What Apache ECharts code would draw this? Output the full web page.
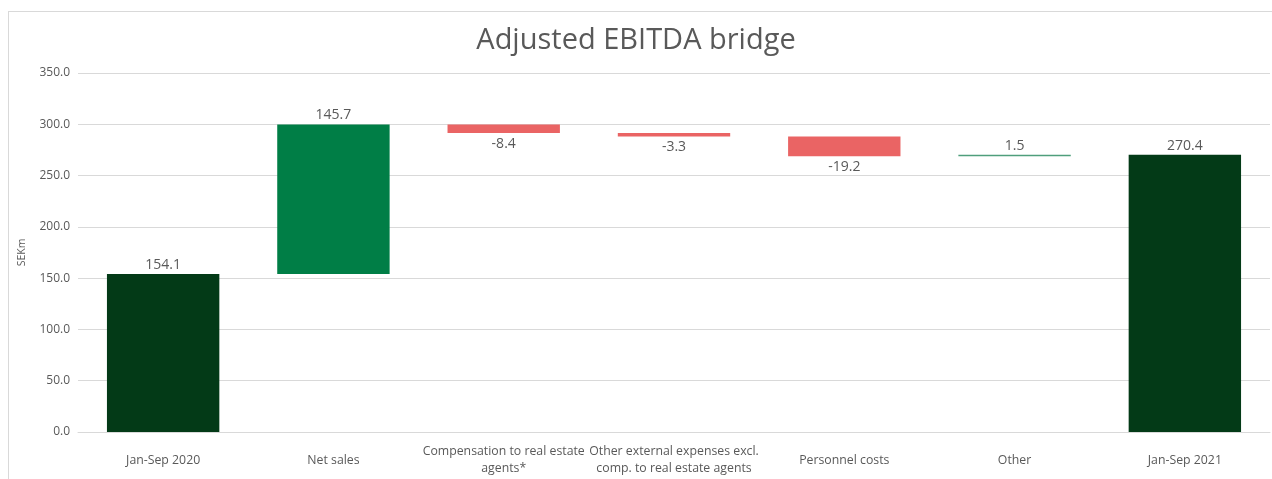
<!DOCTYPE html>
<html>
<head>
<meta charset="utf-8">
<script src="https://cdn.jsdelivr.net/npm/echarts@6/dist/echarts.min.js"></script>
<style>
html,body{margin:0;padding:0;background:#fff;}
#frame{position:absolute;left:8px;top:11px;width:1300px;height:500px;border:1px solid #d9d9d9;box-sizing:border-box;}
#chart{position:absolute;left:0;top:0;width:1272px;height:479px;}
</style>
</head>
<body>
<div id="frame"></div>
<div id="chart"></div>
<script>
const categories = ["Jan-Sep 2020", "Net sales", "Compensation to real estate\nagents*", "Other external expenses excl.\ncomp. to real estate agents", "Personnel costs", "Other", "Jan-Sep 2021"];
const values = [154.1, 145.7, -8.4, -3.3, -19.2, 1.5, 270.4];
const kinds = ["total", "delta", "delta", "delta", "delta", "delta", "total"];
const yTicks = {min: 0, max: 350, interval: 50};

const colors = {total: "#033a17", up: "#007e46", down: "#ea6464", small: "#4f9f7c"};

let running = 0;
const baseData = [], barData = [];
values.forEach((v, i) => {
  let base, h, color, pos, dist;
  if (kinds[i] === "total") {
    base = 0; h = v; running = v; color = colors.total; pos = "top"; dist = 2;
  } else if (v >= 0) {
    base = running; h = v; running += v; color = Math.abs(v) < 3 ? colors.small : colors.up; pos = "top"; dist = 2;
  } else {
    base = running + v; h = -v; running += v; color = colors.down; pos = "bottom"; dist = 4;
  }
  baseData.push(base);
  barData.push({value: h, itemStyle: {color: color}, label: {position: pos, distance: dist, formatter: v.toFixed(1)}});
});

const chart = echarts.init(document.getElementById('chart'));
chart.setOption({
  animation: false,
  title: {
    text: "Adjusted EBITDA bridge",
    left: "center", top: 21,
    textStyle: {fontFamily: "Open Sans", fontSize: 29, fontWeight: "normal", color: "#595959"}
  },
  grid: {left: 78, right: 2, top: 73, bottom: 47},
  xAxis: {
    type: "category",
    data: categories,
    axisLine: {lineStyle: {color: "#d9d9d9"}},
    axisTick: {show: false},
    axisLabel: {color: "#595959", fontFamily: "Open Sans", fontSize: 12.3, margin: 28, verticalAlign: "middle", lineHeight: 17, interval: 0}
  },
  yAxis: {
    type: "value",
    min: yTicks.min, max: yTicks.max, interval: yTicks.interval,
    name: "SEKm", nameLocation: "middle", nameGap: 50, nameRotate: 90,
    nameTextStyle: {color: "#595959", fontFamily: "Open Sans", fontSize: 10.5},
    axisLabel: {color: "#595959", fontFamily: "Open Sans", fontSize: 12, margin: 8, formatter: v => v.toFixed(1)},
    splitLine: {lineStyle: {color: "#d9d9d9"}},
    axisLine: {show: false}, axisTick: {show: false}
  },
  series: [
    {type: "bar", stack: "w", data: baseData, itemStyle: {color: "transparent"}, barWidth: "66%", silent: true},
    {type: "bar", stack: "w", data: barData, barWidth: "66%",
     label: {show: true, color: "#595959", fontFamily: "Open Sans", fontSize: 14}}
  ]
});
</script>
</body>
</html>
